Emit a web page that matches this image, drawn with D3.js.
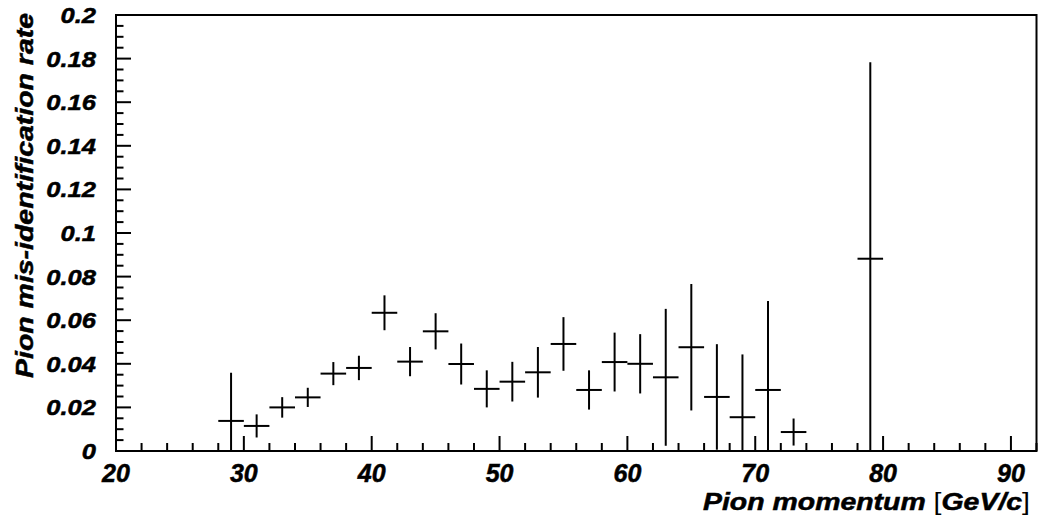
<!DOCTYPE html>
<html>
<head>
<meta charset="utf-8">
<script src="https://cdn.jsdelivr.net/npm/d3@7"></script>
<style>
  body { margin: 0; background: #fff; }
  text { font-family: "Liberation Sans", Arial, Helvetica, sans-serif; font-weight: bold; font-style: italic; fill: #000; stroke: #000; stroke-width: 0.5px; }
</style>
</head>
<body>
<svg id="chart" width="1038" height="527"></svg>
<script>
// bin centres (GeV/c), 2 GeV wide bins from 20 to 92
var binCenters = [21, 23, 25, 27, 29, 31, 33, 35, 37, 39, 41, 43, 45, 47, 49, 51, 53, 55,
  57, 59, 61, 63, 65, 67, 69, 71, 73, 75, 77, 79, 81, 83, 85, 87, 89, 91];
var rates = [0, 0, 0, 0, 0.0138, 0.0115, 0.0200, 0.0246, 0.0355, 0.0381, 0.0634, 0.0410,
  0.0549, 0.0399, 0.0285, 0.0318, 0.0361, 0.0491, 0.0280, 0.0408, 0.0400, 0.0338, 0.0476,
  0.0248, 0.0155, 0.0280, 0.0087, 0, 0, 0.0882, 0, 0, 0, 0, 0, 0];
var errors = [0, 0, 0, 0, 0.0221, 0.0053, 0.0047, 0.0044, 0.0053, 0.0056, 0.0080, 0.0067,
  0.0083, 0.0094, 0.0085, 0.0091, 0.0116, 0.0123, 0.0090, 0.0135, 0.0136, 0.0314, 0.0290,
  0.0242, 0.0288, 0.0408, 0.0062, 0, 0, 0.0901, 0, 0, 0, 0, 0, 0];
var binWidth = 2;
var xTickLabels = [20, 30, 40, 50, 60, 70, 80, 90];
var yTickLabels = [0, 0.02, 0.04, 0.06, 0.08, 0.1, 0.12, 0.14, 0.16, 0.18, 0.2];

(function () {
  var svg = d3.select("#chart");
  var pLeft = 116, pRight = 1036.5, pTop = 15, pBottom = 451;

  var x = d3.scaleLinear().domain([20, 92]).range([pLeft, pRight]);
  var y = d3.scaleLinear().domain([0, 0.2]).range([pBottom, pTop]);

  var data = binCenters.map(function (c, i) {
    return { x: c, v: rates[i], e: errors[i] };
  });

  // frame
  svg.append("rect")
    .attr("x", pLeft).attr("y", pTop)
    .attr("width", pRight - pLeft).attr("height", pBottom - pTop)
    .attr("fill", "none").attr("stroke", "#000").attr("stroke-width", 2);

  // x axis ticks (inside, pointing up)
  var xMinor = d3.range(20, 92.01, 2);
  svg.append("g").selectAll("line").data(xMinor).enter().append("line")
    .attr("x1", function (d) { return x(d); })
    .attr("x2", function (d) { return x(d); })
    .attr("y1", pBottom)
    .attr("y2", function (d) { return d % 10 === 0 ? pBottom - 15 : pBottom - 8; })
    .attr("stroke", "#000").attr("stroke-width", 2);

  svg.append("g").selectAll("text").data(xTickLabels).enter().append("text")
    .attr("transform", function (d) { return "translate(" + x(d) + ",482)"; })
    .attr("text-anchor", "middle")
    .attr("font-size", 25)
    .text(function (d) { return d; });

  // y axis ticks (inside, pointing right)
  var yMinor = d3.range(0, 0.2001, 0.005);
  svg.append("g").selectAll("line").data(yMinor).enter().append("line")
    .attr("x1", pLeft)
    .attr("x2", function (d, i) { return i % 4 === 0 ? pLeft + 15 : pLeft + 7.5; })
    .attr("y1", function (d) { return y(d); })
    .attr("y2", function (d) { return y(d); })
    .attr("stroke", "#000").attr("stroke-width", 2);

  svg.append("g").selectAll("text").data(yTickLabels).enter().append("text")
    .attr("transform", function (d) { return "translate(96," + (y(d) + 8) + ") scale(1.16,1)"; })
    .attr("text-anchor", "end")
    .attr("font-size", 22)
    .text(function (d) { return d; });

  // histogram points with error bars
  var marks = svg.append("g").attr("stroke", "#000").attr("stroke-width", 2);
  data.forEach(function (d) {
    marks.append("line")
      .attr("x1", x(d.x - binWidth / 2)).attr("x2", x(d.x + binWidth / 2))
      .attr("y1", y(d.v)).attr("y2", y(d.v));
    if (d.e > 0) {
      marks.append("line")
        .attr("x1", x(d.x)).attr("x2", x(d.x))
        .attr("y1", y(Math.max(0, d.v - d.e)))
        .attr("y2", y(Math.min(0.2, d.v + d.e)));
    }
  });

  // axis titles
  var xt = svg.append("text")
    .attr("transform", "translate(1030,510) scale(1.21,1)")
    .attr("text-anchor", "end")
    .attr("font-size", 23.5);
  xt.append("tspan").text("Pion momentum ");
  xt.append("tspan").attr("font-style", "normal").attr("font-weight", "normal").attr("stroke-width", 0).text("[");
  xt.append("tspan").text("GeV/c");
  xt.append("tspan").attr("font-style", "normal").attr("font-weight", "normal").attr("stroke-width", 0).text("]");

  svg.append("text")
    .attr("transform", "translate(33,13) rotate(-90) scale(1.21,1)")
    .attr("text-anchor", "end")
    .attr("font-size", 23.5)
    .text("Pion mis-identification rate");
})();
</script>
</body>
</html>
